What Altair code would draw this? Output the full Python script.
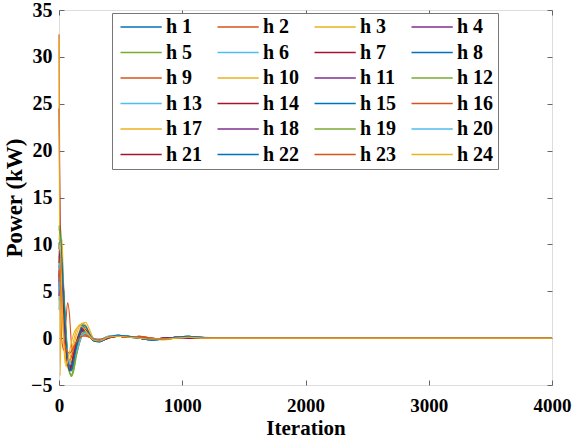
import altair as alt
import pandas as pd

iters = [0, 10, 25, 40, 55, 70, 85, 100, 120, 140, 165, 190, 215, 245, 280, 330,
         400, 480, 560, 650, 750, 850, 950, 1050, 1150, 1300, 4000]

h1 = [8.5, 11.0, 8.0, 4.0, 0.5, -2.2, -3.3, -3.4, -2.6, -1.2, 0.3, 1.2, 1.1, 0.4, -0.3, -0.3, 0.1, 0.3, 0.2, 0.0, -0.2, -0.1, 0.1, 0.2, 0.1, 0.0, 0.0]
h2 = [32.4, 7.0, -0.5, -1.3, 1.5, 3.8, 2.5, -0.5, -2.2, -1.8, -0.6, 0.3, 0.5, 0.2, -0.2, -0.2, 0.1, 0.2, 0.1, 0.2, 0.0, -0.1, 0.0, 0.1, 0.0, 0.0, 0.0]
h3 = [5.0, 10.5, 7.0, 2.0, -1.5, -3.0, -3.5, -2.8, -1.5, -0.3, 0.8, 1.5, 1.7, 1.0, 0.0, -0.3, 0.1, 0.2, 0.1, 0.1, -0.1, -0.2, 0.0, 0.1, 0.0, 0.0, 0.0]
h4 = [6.0, 9.5, 7.0, 3.0, -0.5, -2.5, -3.5, -3.2, -2.0, -0.8, 0.2, 0.8, 0.7, 0.3, -0.2, -0.2, 0.2, 0.3, 0.1, 0.0, -0.1, 0.0, 0.1, 0.1, 0.0, 0.0, 0.0]
h5 = [11.5, 12.0, 9.0, 5.0, 1.5, -1.5, -3.5, -4.1, -3.5, -2.0, -0.5, 0.5, 0.8, 0.4, -0.1, -0.3, 0.0, 0.2, 0.2, 0.1, -0.1, -0.1, 0.1, 0.1, 0.0, 0.0, 0.0]
h6 = [4.0, 8.0, 6.5, 3.0, 0.0, -1.8, -2.8, -3.0, -2.4, -1.4, -0.3, 0.5, 0.6, 0.3, -0.1, -0.2, 0.2, 0.3, 0.2, 0.0, -0.2, -0.1, 0.1, 0.2, 0.1, 0.0, 0.0]
h7 = [24.5, 9.0, 5.0, 2.0, -1.0, -2.8, -3.3, -2.7, -1.6, -0.5, 0.5, 1.0, 0.9, 0.4, -0.2, -0.3, 0.0, 0.2, 0.1, 0.1, -0.1, 0.0, 0.1, 0.0, 0.0, 0.0, 0.0]
h8 = [7.5, 10.0, 7.5, 3.5, 0.0, -2.4, -3.4, -3.3, -2.3, -1.0, 0.4, 1.3, 1.2, 0.5, -0.2, -0.3, 0.1, 0.2, 0.2, 0.0, -0.2, -0.1, 0.1, 0.1, 0.1, 0.0, 0.0]
h9 = [10.0, 9.0, 5.0, 1.5, -1.0, -2.0, -2.3, -2.0, -1.5, -0.8, -0.2, 0.3, 0.4, 0.2, -0.1, -0.2, 0.1, 0.2, 0.1, 0.2, 0.0, -0.1, 0.0, 0.1, 0.0, 0.0, 0.0]
h10 = [8.0, 10.0, 6.0, 1.0, -2.0, -3.2, -3.0, -2.0, -0.8, 0.3, 1.2, 1.6, 1.4, 0.7, -0.1, -0.3, 0.1, 0.2, 0.1, 0.0, -0.1, -0.1, 0.1, 0.1, 0.0, 0.0, 0.0]
h11 = [5.5, 9.0, 6.0, 2.5, -0.5, -2.2, -3.0, -2.8, -1.8, -0.7, 0.3, 0.9, 0.8, 0.3, -0.2, -0.2, 0.1, 0.2, 0.2, 0.0, -0.1, -0.1, 0.1, 0.1, 0.0, 0.0, 0.0]
h12 = [10.5, 11.0, 8.0, 4.5, 1.0, -1.8, -3.6, -3.9, -3.2, -1.8, -0.4, 0.4, 0.7, 0.3, -0.1, -0.2, 0.1, 0.2, 0.1, 0.1, -0.1, -0.1, 0.0, 0.1, 0.0, 0.0, 0.0]
h13 = [3.0, 7.0, 5.0, 2.0, -0.5, -1.8, -2.5, -2.6, -2.2, -1.3, -0.3, 0.4, 0.5, 0.3, 0.0, -0.2, 0.1, 0.3, 0.2, 0.1, -0.1, -0.1, 0.1, 0.2, 0.1, 0.0, 0.0]
h14 = [6.5, 8.5, 5.5, 2.0, -1.0, -2.6, -3.2, -2.9, -1.8, -0.6, 0.4, 0.9, 0.8, 0.3, -0.2, -0.3, 0.0, 0.2, 0.1, 0.1, -0.1, 0.0, 0.1, 0.0, 0.0, 0.0, 0.0]
h15 = [9.5, 11.0, 8.5, 4.5, 0.8, -2.0, -3.3, -3.5, -2.7, -1.3, 0.2, 1.1, 1.1, 0.5, -0.2, -0.4, 0.1, 0.3, 0.2, 0.0, -0.2, -0.1, 0.1, 0.2, 0.1, 0.0, 0.0]
h16 = [7.0, 8.5, 4.5, 1.0, -1.2, -2.2, -2.4, -2.0, -1.2, -0.5, 0.0, 0.3, 0.3, 0.1, -0.1, -0.2, 0.1, 0.2, 0.1, 0.2, 0.0, -0.1, 0.0, 0.1, 0.0, 0.0, 0.0]
h17 = [32.0, -4.0, 10.5, 3.0, -2.5, -3.0, -2.5, -1.5, -0.2, 0.8, 1.4, 1.5, 1.1, 0.5, -0.2, -0.3, 0.1, 0.2, 0.1, 0.0, -0.1, -0.1, 0.0, 0.1, 0.0, 0.0, 0.0]
h18 = [4.5, 8.0, 6.0, 2.5, -0.3, -2.0, -2.9, -2.9, -2.0, -0.9, 0.2, 0.7, 0.7, 0.3, -0.1, -0.2, 0.1, 0.2, 0.1, 0.0, -0.1, 0.0, 0.1, 0.1, 0.0, 0.0, 0.0]
h19 = [12.0, 10.5, 7.5, 4.0, 0.8, -2.0, -3.7, -4.0, -3.0, -1.6, -0.3, 0.5, 0.7, 0.3, -0.1, -0.3, 0.0, 0.2, 0.2, 0.1, -0.1, -0.1, 0.1, 0.1, 0.0, 0.0, 0.0]
h20 = [5.0, 8.5, 6.5, 3.0, 0.2, -1.6, -2.6, -2.8, -2.3, -1.5, -0.5, 0.3, 0.5, 0.3, 0.0, -0.2, 0.2, 0.3, 0.2, 0.1, -0.1, -0.1, 0.1, 0.2, 0.1, 0.0, 0.0]
h21 = [8.0, 9.5, 6.0, 2.5, -0.8, -2.7, -3.4, -3.0, -1.9, -0.6, 0.5, 1.0, 0.9, 0.4, -0.2, -0.3, 0.0, 0.2, 0.1, 0.1, -0.1, 0.0, 0.1, 0.0, 0.0, 0.0, 0.0]
h22 = [10.0, 10.5, 8.0, 4.0, 0.3, -2.3, -3.5, -3.4, -2.4, -1.0, 0.4, 1.4, 1.3, 0.5, -0.3, -0.4, 0.1, 0.3, 0.2, 0.0, -0.2, -0.1, 0.1, 0.2, 0.1, 0.0, 0.0]
h23 = [6.0, 7.5, 3.5, 0.0, -1.0, -1.5, -1.6, -1.4, -0.9, -0.4, 0.0, 0.2, 0.2, 0.1, -0.1, -0.1, 0.1, 0.2, 0.1, 0.1, 0.0, -0.1, 0.0, 0.1, 0.0, 0.0, 0.0]
h24 = [11.0, 10.0, 4.0, -1.0, -3.0, -2.5, -1.5, -0.5, 0.5, 1.0, 1.3, 1.2, 0.8, 0.3, -0.2, -0.3, 0.1, 0.2, 0.1, 0.0, -0.1, -0.1, 0.0, 0.1, 0.0, 0.0, 0.0]

series = [h1, h2, h3, h4, h5, h6, h7, h8, h9, h10, h11, h12,
          h13, h14, h15, h16, h17, h18, h19, h20, h21, h22, h23, h24]
names = ["h " + str(i + 1) for i in range(24)]
palette = ["#0072BD", "#D95319", "#EDB120", "#7E2F8E", "#77AC30", "#4DBEEE", "#A2142F"]
colors = [palette[i % 7] for i in range(24)]

x_ticks = [0, 1000, 2000, 3000, 4000]
y_ticks = [-5, 0, 5, 10, 15, 20, 25, 30, 35]

rows = []
for k, (nm, vals) in enumerate(zip(names, series)):
    for it, v in zip(iters, vals):
        rows.append({"it": it, "p": v, "s": nm, "k": k})
df = pd.DataFrame(rows)

FONT = "Liberation Serif"
xs = alt.Scale(domain=[0, 4000], nice=False, zero=False)
ys = alt.Scale(domain=[-5, 35], nice=False, zero=False)

base = alt.Chart(df)

lines = base.mark_line(strokeWidth=1.1, interpolate="monotone").encode(
    x=alt.X("it:Q", scale=xs, axis=alt.Axis(
        orient="bottom", values=x_ticks, format="d", title="Iteration", grid=False, domain=False,
        ticks=True, tickSize=5, offset=-5, tickColor="#666", labelPadding=11,
        labelFont=FONT, labelFontWeight="bold", labelFontSize=19, labelColor="black",
        titleFont=FONT, titleFontWeight="bold", titleFontSize=21, titleColor="black",
        titlePadding=2, labelFlush=False)),
    y=alt.Y("p:Q", scale=ys, axis=alt.Axis(
        orient="left", values=y_ticks, format="d", title="Power (kW)", grid=False, domain=False,
        ticks=True, tickSize=5, offset=-5, tickColor="#666", labelPadding=7,
        labelFont=FONT, labelFontWeight="bold", labelFontSize=20, labelColor="black",
        titleFont=FONT, titleFontWeight="bold", titleFontSize=23, titleColor="black",
        titlePadding=4, labelFlush=False)),
    color=alt.Color("s:N", scale=alt.Scale(domain=names, range=colors), legend=alt.Legend(
        orient="none", legendX=53, legendY=3, columns=4, direction="horizontal", title=None,
        symbolType="M-1,0H6.5", symbolSize=121, symbolStrokeWidth=1.5,
        labelFont=FONT, labelFontWeight="bold", labelFontSize=20, labelColor="black",
        labelOffset=30, fillColor="white", strokeColor="#777", padding=4,
        rowPadding=5.5, columnPadding=10)),
    order=alt.Order("k:Q"),
)

frame = base.mark_line(opacity=0).encode(
    x=alt.X("it:Q", scale=xs, axis=alt.Axis(
        orient="top", values=x_ticks, title=None, labels=False, grid=False, domain=False,
        ticks=True, tickSize=5, offset=-5, tickColor="#666")),
    y=alt.Y("p:Q", scale=ys, axis=alt.Axis(
        orient="right", values=y_ticks, title=None, labels=False, grid=False, domain=False,
        ticks=True, tickSize=5, offset=-5, tickColor="#666")),
)

chart = alt.layer(lines, frame).resolve_axis(x="independent", y="independent").properties(
    width=493, height=375,
    autosize=alt.AutoSizeParams(type="none"),
    padding={"left": 59, "top": 10, "right": 22, "bottom": 61},
).configure_view(stroke="#777", strokeWidth=1).configure(background="white")

chart.save("out.html", embed_options={"renderer": "svg", "actions": False})
